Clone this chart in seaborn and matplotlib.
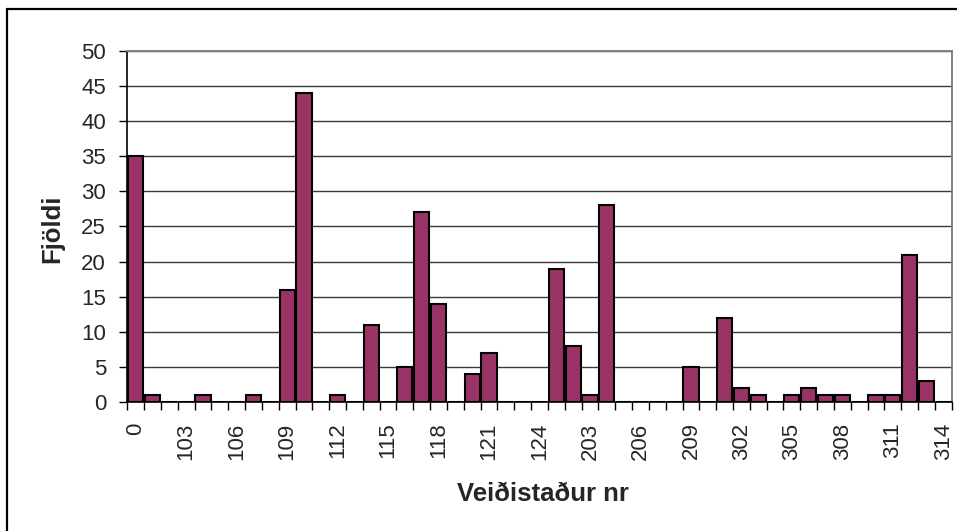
import numpy as np
import pandas as pd
import seaborn as sns
import matplotlib.pyplot as plt
from matplotlib.lines import Line2D

# Data: fishing spots (Veiðistaður nr) and counts (Fjöldi)
spots = ['0', '101', '102', '103', '104', '105', '106', '107', '108', '109',
         '110', '111', '112', '113', '114', '115', '116', '117', '118', '119',
         '120', '121', '122', '123', '124', '201', '202', '203', '204', '205',
         '206', '207', '208', '209', '210', '301', '302', '303', '304', '305',
         '306', '307', '308', '309', '310', '311', '312', '313', '314']
counts = [35, 1, 0, 0, 1, 0, 0, 1, 0, 16,
          44, 0, 1, 0, 11, 0, 5, 27, 14, 0,
          4, 7, 0, 0, 0, 19, 8, 1, 28, 0,
          0, 0, 0, 5, 0, 12, 2, 1, 0, 1,
          2, 1, 1, 0, 1, 1, 21, 3, 0]
shown_labels = ['0', '103', '106', '109', '112', '115', '118', '121', '124',
                '203', '206', '209', '302', '305', '308', '311', '314']

df = pd.DataFrame({'spot': spots, 'count': counts})

sns.set_style("white")
plt.rcParams['font.family'] = ['Liberation Sans', 'DejaVu Sans']

fig = plt.figure(figsize=(9.57, 5.31), dpi=100)
ax = fig.add_axes([0.133, 0.2424, 0.8615, 0.6621])

sns.barplot(data=df, x='spot', y='count', order=spots, color='#993366',
            saturation=1, width=0.9, edgecolor='black', linewidth=1.5, ax=ax,
            zorder=3)

# y axis
ax.set_ylim(0, 50)
ax.set_yticks(np.arange(0, 51, 5))
ax.yaxis.grid(True, color='#3a3a3a', linewidth=1.0, zorder=0)
ax.set_axisbelow(True)

# x axis: labels every 3rd category, tick marks at category boundaries
ax.set_xlim(-0.5, len(spots) - 0.5)
pos = [spots.index(s) for s in shown_labels]
ax.set_xticks(pos)
ax.set_xticklabels(shown_labels, rotation=90, va='top', ha='center')
ax.set_xticks(np.arange(-0.5, len(spots), 1), minor=True)
ax.tick_params(axis='x', which='major', length=0, pad=14.5, labelsize=16)
ax.tick_params(axis='x', which='minor', length=5.5, width=1.0, color='black',
               direction='out', bottom=True)
ax.tick_params(axis='y', length=5.8, width=1.0, color='black', direction='out',
               left=True, pad=9.5, labelsize=16)

for side in ['left', 'bottom']:
    ax.spines[side].set_color('black')
    ax.spines[side].set_linewidth(1.2)
for side in ['top', 'right']:
    ax.spines[side].set_color('#808080')
    ax.spines[side].set_linewidth(1.4)

ax.set_xlabel('Veiðistaður nr', fontsize=18.5, weight='bold', va='center')
ax.set_ylabel('Fjöldi', fontsize=18.5, weight='bold', va='center')
ax.xaxis.set_label_coords(0.504, -0.261)
ax.yaxis.set_label_coords(-0.0913, 0.493)

# outer chart frame (runs off the right and bottom edge)
W, H = 957, 531
fig.add_artist(Line2D([7.5 / W, 7.5 / W], [0, 1 - 8.5 / H],
                      transform=fig.transFigure, color='black', lw=1.6))
fig.add_artist(Line2D([7.5 / W, 1], [1 - 8.5 / H, 1 - 8.5 / H],
                      transform=fig.transFigure, color='black', lw=1.6))

fig.savefig('out.png', dpi=100)
